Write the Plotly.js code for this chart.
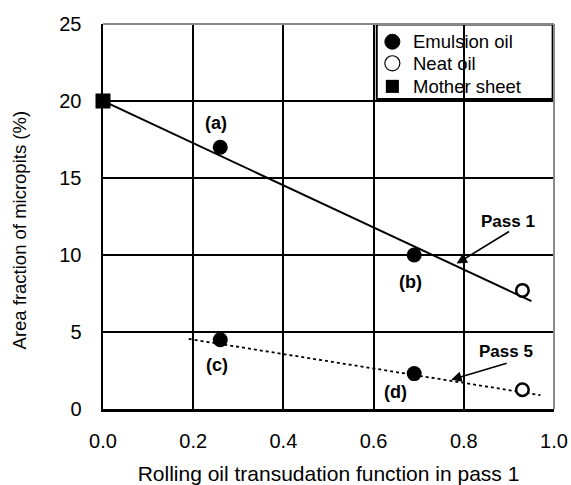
<!DOCTYPE html>
<html>
<head>
<meta charset="utf-8">
<script src="https://cdn.plot.ly/plotly-3.0.1.min.js"></script>
<style>html,body{margin:0;padding:0;background:#fff;}#chart{width:571px;height:485px;}</style>
</head>
<body>
<div id="chart"></div>
<script>
// Data
var emulsionX = [0.26, 0.69, 0.26, 0.69];
var emulsionY = [17.0, 10.0, 4.5, 2.3];
var neatX = [0.93, 0.93];
var neatY = [7.7, 1.25];
var motherX = [0.0];
var motherY = [20.0];
var pass1LineX = [0.0, 0.95];
var pass1LineY = [20.0, 7.0];
var pass5LineX = [0.19, 0.97];
var pass5LineY = [4.55, 0.9];
var pointLabels = ['(a)', '(b)', '(c)', '(d)'];
var legendLabels = ['Emulsion oil', 'Neat oil', 'Mother sheet'];
var xTicks = [0, 0.2, 0.4, 0.6, 0.8, 1.0];
var xTickText = ['0.0', '0.2', '0.4', '0.6', '0.8', '1.0'];
var yTicks = [0, 5, 10, 15, 20, 25];

var FONT = 'Liberation Sans, Arial, sans-serif';

var traces = [
  {x: pass1LineX, y: pass1LineY, mode: 'lines', line: {color: '#000', width: 2}, showlegend: false, hoverinfo: 'skip'},
  {x: pass5LineX, y: pass5LineY, mode: 'lines', line: {color: '#000', width: 1.8, dash: 'dot'}, showlegend: false, hoverinfo: 'skip'},
  {x: emulsionX, y: emulsionY, mode: 'markers', name: legendLabels[0],
   marker: {symbol: 'circle', size: 15, color: '#000'}, showlegend: false, cliponaxis: false},
  {x: neatX, y: neatY, mode: 'markers', name: legendLabels[1],
   marker: {symbol: 'circle', size: 12.5, color: '#fff', line: {color: '#000', width: 2.5}}, showlegend: false, cliponaxis: false},
  {x: motherX, y: motherY, mode: 'markers', name: legendLabels[2],
   marker: {symbol: 'square', size: 15, color: '#000'}, showlegend: false, cliponaxis: false}
];

// label offsets (layout only)
var labelPos = [[0.251, 18.6], [0.681, 8.25], [0.252, 2.85], [0.648, 1.1]];

var annotations = [];
pointLabels.forEach(function (t, i) {
  annotations.push({x: labelPos[i][0], y: labelPos[i][1], xref: 'x', yref: 'y', text: '<b>' + t + '</b>',
    showarrow: false, font: {family: FONT, size: 18, color: '#000'}});
});
// Pass arrows
annotations.push({x: 0.784, y: 9.44, xref: 'x', yref: 'y', ax: 54, ay: -33, axref: 'pixel', ayref: 'pixel',
  text: '', showarrow: true, arrowhead: 2, arrowsize: 1.3, arrowwidth: 1.6, arrowcolor: '#000'});
annotations.push({x: 0.899, y: 12.2, xref: 'x', yref: 'y', text: '<b>Pass 1</b>', showarrow: false,
  font: {family: FONT, size: 17, color: '#000'}});
annotations.push({x: 0.772, y: 1.9, xref: 'x', yref: 'y', ax: 57, ay: -17, axref: 'pixel', ayref: 'pixel',
  text: '', showarrow: true, arrowhead: 2, arrowsize: 1.3, arrowwidth: 1.6, arrowcolor: '#000'});
annotations.push({x: 0.893, y: 3.75, xref: 'x', yref: 'y', text: '<b>Pass 5</b>', showarrow: false,
  font: {family: FONT, size: 17, color: '#000'}});
// Legend text
var legendRowsY = [0.954, 0.898, 0.838];
legendLabels.forEach(function (t, i) {
  annotations.push({x: 0.684, y: legendRowsY[i], xref: 'paper', yref: 'paper', text: t, showarrow: false,
    xanchor: 'left', yanchor: 'middle', font: {family: FONT, size: 18.5, color: '#000'}});
});
// y-axis title as annotation
annotations.push({x: -0.183, y: 0.465, xref: 'paper', yref: 'paper', text: 'Area fraction of micropits (%)',
  textangle: -90, showarrow: false, xanchor: 'center', yanchor: 'middle',
  font: {family: FONT, size: 18.5, color: '#000'}});

var shapes = [
  // legend box (below grid so the 0.8 gridline runs through it)
  {type: 'rect', xref: 'paper', yref: 'paper', x0: 0.607, x1: 0.997, y0: 0.805, y1: 0.999,
   line: {color: '#000', width: 2}, fillcolor: '#fff', layer: 'below'},
  // legend symbols
  {type: 'circle', xref: 'paper', yref: 'paper', x0: 0.6416 - 0.0167, x1: 0.6416 + 0.0167,
   y0: 0.954 - 0.0195, y1: 0.954 + 0.0195, fillcolor: '#000', line: {color: '#000', width: 1}, layer: 'above'},
  {type: 'circle', xref: 'paper', yref: 'paper', x0: 0.6416 - 0.0167, x1: 0.6416 + 0.0167,
   y0: 0.898 - 0.0195, y1: 0.898 + 0.0195, fillcolor: '#fff', line: {color: '#000', width: 1.2}, layer: 'above'},
  {type: 'rect', xref: 'paper', yref: 'paper', x0: 0.6416 - 0.0145, x1: 0.6416 + 0.0145,
   y0: 0.838 - 0.017, y1: 0.838 + 0.017, fillcolor: '#000', line: {color: '#000', width: 0}, layer: 'above'},
  // top & right gray borders
  {type: 'line', xref: 'paper', yref: 'paper', x0: 0, x1: 1, y0: 1, y1: 1, line: {color: '#8a8a8a', width: 2}, layer: 'above'},
  {type: 'line', xref: 'paper', yref: 'paper', x0: 1, x1: 1, y0: 0, y1: 1, line: {color: '#8a8a8a', width: 2}, layer: 'above'}
];

var layout = {
  width: 571, height: 485,
  margin: {l: 103, r: 17, t: 24, b: 76},
  paper_bgcolor: '#fff', plot_bgcolor: '#fff',
  showlegend: false,
  font: {family: FONT, color: '#000'},
  xaxis: {
    range: [0, 1], tickvals: xTicks, ticktext: xTickText, showgrid: true, gridcolor: '#000', gridwidth: 2,
    zeroline: false, showline: true, linecolor: '#000', linewidth: 2.5, ticks: '', ticklabelstandoff: 12,
    tickfont: {family: FONT, size: 20, color: '#000'},
    title: {text: 'Rolling oil transudation function in pass 1', font: {family: FONT, size: 21, color: '#000'}, standoff: 18},
    fixedrange: true
  },
  yaxis: {
    range: [0, 25], tickvals: yTicks, showgrid: true, gridcolor: '#000', gridwidth: 2,
    zeroline: false, showline: true, linecolor: '#000', linewidth: 2.5, ticks: '', ticklabelstandoff: 15,
    tickfont: {family: FONT, size: 20, color: '#000'},
    fixedrange: true
  },
  annotations: annotations,
  shapes: shapes
};

Plotly.newPlot('chart', traces, layout, {displayModeBar: false, staticPlot: true});
</script>
</body>
</html>
